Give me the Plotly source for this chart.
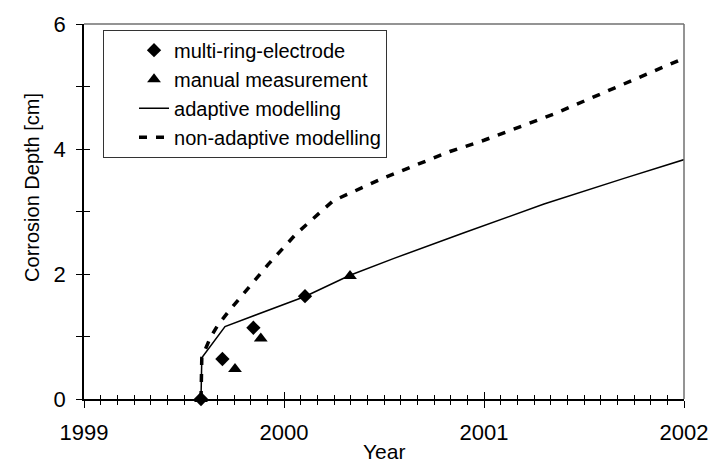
import plotly.graph_objects as go

# Measured corrosion depth (cm) against time (decimal year)
ring_electrode_year = [1999.585, 1999.692, 1999.847, 2000.105]
ring_electrode_depth = [0.0, 0.64, 1.14, 1.645]

manual_year = [1999.585, 1999.755, 1999.884, 2000.33]
manual_depth = [0.0, 0.48, 0.97, 1.97]

# Model predictions
adaptive_year = [1999.585, 1999.589, 1999.705, 2000.105, 2000.33, 2000.55, 2000.9,
                 2001.3, 2001.7, 2002.03]
adaptive_depth = [0.0, 0.66, 1.16, 1.64, 1.98, 2.25, 2.66, 3.12, 3.53, 3.86]

nonadaptive_year = [1999.585, 1999.589, 1999.63, 1999.665, 1999.72, 1999.79, 1999.92,
                    2000.06, 2000.245, 2000.5, 2000.83, 2001.0, 2001.35, 2001.67, 2002.02]
nonadaptive_depth = [0.0, 0.66, 0.97, 1.16, 1.39, 1.66, 2.15,
                     2.64, 3.17, 3.54, 3.96, 4.14, 4.56, 5.0, 5.48]

x_ticks = [1999, 2000, 2001, 2002]
y_ticks = [0, 2, 4, 6]

FONT = "Liberation Sans, Arial, sans-serif"

fig = go.Figure()

fig.add_trace(go.Scatter(
    x=ring_electrode_year, y=ring_electrode_depth, mode="markers",
    name="multi-ring-electrode",
    marker=dict(symbol="diamond", size=11, color="black"),
    cliponaxis=False,
))
fig.add_trace(go.Scatter(
    x=manual_year, y=manual_depth, mode="markers",
    name="manual measurement",
    marker=dict(symbol="triangle-up", size=12, color="black"),
    cliponaxis=False,
))
fig.add_trace(go.Scatter(
    x=adaptive_year, y=adaptive_depth, mode="lines",
    name="adaptive modelling",
    line=dict(color="black", width=1.5),
))
fig.add_trace(go.Scatter(
    x=nonadaptive_year, y=nonadaptive_depth, mode="lines",
    name="non-adaptive modelling",
    line=dict(color="black", width=3.5, dash="8px,9px"),
))

x_range = [x_ticks[0], x_ticks[-1]]
y_range = [y_ticks[0], y_ticks[-1]]

common_x = dict(range=x_range, tickvals=x_ticks, showgrid=False, zeroline=False,
                minor=dict(dtick=1 / 12, tick0=x_ticks[0], ticklen=4, tickcolor="black",
                           tickwidth=1, showgrid=False))
common_y = dict(range=y_range, tickvals=y_ticks, showgrid=False, zeroline=False,
                minor=dict(dtick=1, tick0=0, ticklen=6, tickcolor="black",
                           tickwidth=1, showgrid=False))

fig.update_layout(
    width=720, height=466,
    margin=dict(l=84, r=36, t=18, b=67),
    paper_bgcolor="white", plot_bgcolor="white",
    font=dict(family=FONT, color="black", size=22),
    showlegend=True,
    legend=dict(
        x=0.0317, y=0.985, xanchor="left", yanchor="top",
        bgcolor="white", bordercolor="#333333", borderwidth=1,
        font=dict(family=FONT, size=20, color="black"),
        indentation=30, tracegroupgap=0,
    ),
    xaxis=dict(
        **common_x,
        ticks="outside", ticklen=7, tickwidth=1, tickcolor="black",
        showline=True, linecolor="black", linewidth=1.5,
        ticktext=[str(v) for v in x_ticks],
        tickfont=dict(size=22), ticklabelstandoff=6,
    ),
    xaxis2=dict(
        **common_x, overlaying="x", anchor="y", side="bottom",
        ticks="inside", ticklen=7, tickwidth=1, tickcolor="black",
        showticklabels=False, showline=False,
    ),
    yaxis=dict(
        **common_y,
        ticks="outside", ticklen=6, tickwidth=1, tickcolor="black",
        showline=True, linecolor="black", linewidth=1.5,
        tickfont=dict(size=22), ticklabelstandoff=6,
    ),
    yaxis2=dict(
        **common_y, overlaying="y", anchor="x", side="left",
        ticks="inside", ticklen=6, tickwidth=1, tickcolor="black",
        showticklabels=False, showline=False,
    ),
)
fig.layout.xaxis.minor.ticks = "outside"
fig.layout.yaxis.minor.ticks = "outside"
fig.layout.xaxis2.minor.ticks = "inside"
fig.layout.yaxis2.minor.ticks = "inside"

# invisible trace so the overlay axes are drawn
fig.add_trace(go.Scatter(x=[x_range[0]], y=[y_range[0]], xaxis="x2", yaxis="y2",
                         mode="markers", marker=dict(opacity=0), showlegend=False,
                         hoverinfo="skip"))

# grey frame on top and right
fig.add_shape(type="line", xref="paper", yref="paper", x0=0, x1=1, y0=1, y1=1,
              line=dict(color="#707070", width=1.5))
fig.add_shape(type="line", xref="paper", yref="paper", x0=1, x1=1, y0=0, y1=1,
              line=dict(color="#707070", width=1.5))

# axis titles
fig.add_annotation(text="Year", xref="paper", yref="paper", x=0.5, y=-0.141,
                   xanchor="center", yanchor="middle", showarrow=False,
                   font=dict(family=FONT, size=21))
fig.add_annotation(text="Corrosion Depth [cm]", xref="paper", yref="paper",
                   x=-0.087, y=0.565, xanchor="center", yanchor="middle",
                   textangle=-90, showarrow=False, font=dict(family=FONT, size=20))

fig.write_html("out.html")
